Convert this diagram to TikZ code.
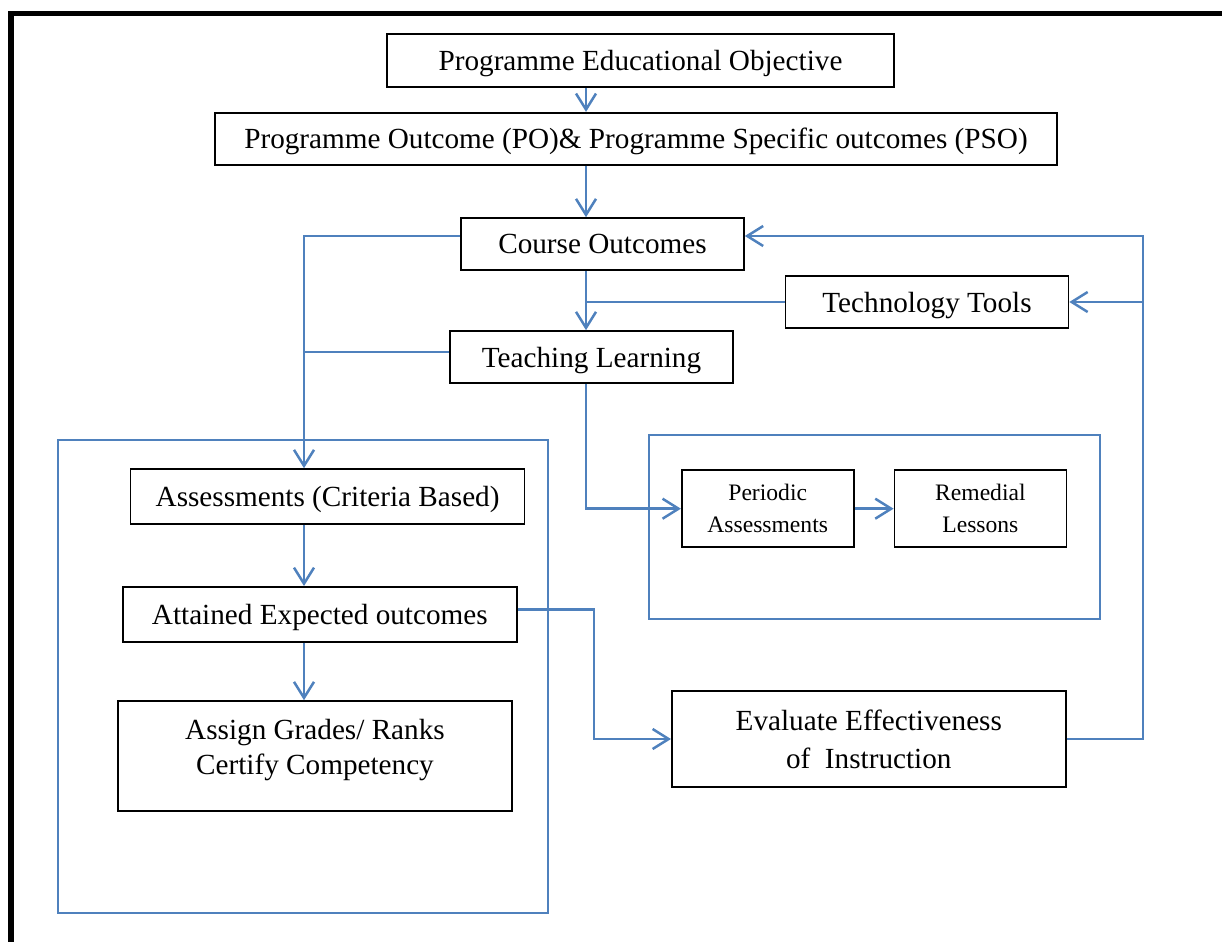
\documentclass[tikz,border=0pt]{standalone}
\usepackage{fontspec}
\setmainfont{Liberation Serif}
\usetikzlibrary{arrows.meta}
\definecolor{lineblue}{RGB}{79,129,189}

\begin{document}
\begin{tikzpicture}[x=0.5pt,y=-0.5pt,>={Straight Barb[length=8pt,width=10pt]},
                    main node/.style={draw,line width=0.8pt,inner sep=0pt,align=center,font=\fontsize{14.6}{17.5}\selectfont},
                    line node/.style={main node,text depth=0pt},
                    small node/.style={main node,font=\fontsize{11.8}{16}\selectfont},
                    link/.style={color=lineblue,line width=1.25pt}]
  \useasboundingbox (0,0) rectangle (1222,942);
  \draw[line width=2.7pt] (1240,13.5) -- (11,13.5) -- (11,960);
  % the two blue frames
  \draw[link] (58,440) rectangle (548,913);
  \draw[link] (649,435) rectangle (1100,619);
  \coordinate (spine) at (586,0);
  \coordinate (lx) at (304,0);
  \coordinate (mx) at (594,0);
  \coordinate (rx) at (1143,0);

  \node[line node,minimum width=253.5pt,minimum height=26.5pt] (peo) at (640.5,60.5) {Programme Educational Objective};
  \node[line node,minimum width=421pt,minimum height=26pt] (po) at (636,138.7) {Programme Outcome (PO)\& Programme Specific outcomes (PSO)};
  \node[line node,minimum width=141.5pt,minimum height=26pt] (co) at (602.5,244) {Course Outcomes};
  \node[line node,minimum width=141.5pt,minimum height=26pt] (tt) at (927,302) {Technology Tools};
  \node[line node,minimum width=141.5pt,minimum height=26pt] (tl) at (591.5,357) {Teaching Learning};
  \node[small node,minimum width=86pt,minimum height=38.5pt] (pa) at (767.7,508.7) {Periodic\\Assessments};
  \node[small node,minimum width=86pt,minimum height=38.5pt] (rl) at (980.4,508.7) {Remedial\\Lessons};
  \node[line node,minimum width=197pt,minimum height=27.5pt] (ass) at (327.6,496.5) {Assessments (Criteria Based)};
  \node[line node,minimum width=197pt,minimum height=27.5pt] (att) at (319.8,614.3) {Attained Expected outcomes};
  \node[main node,minimum width=197pt,minimum height=55pt] (grd) at (315,756) {Assign Grades/ Ranks\\Certify Competency\\[-8pt]\mbox{}};
  \node[main node,minimum width=197pt,minimum height=48pt,font=\fontsize{14.6}{19}\selectfont] (ev) at (868.8,739) {Evaluate Effectiveness\\of~ Instruction};

  \coordinate (coout) at ([yshift=4pt]co.west);
  \coordinate (coin) at ([yshift=4pt]co.east);
  \coordinate (tlout) at ([yshift=2.5pt]tl.west);
  \coordinate (attout) at ([yshift=2.5pt]att.east);

  \path[link,->]
    (peo.south -| spine) edge (po.north -| spine)
    (po.south -| spine) edge (co.north -| spine)
    (co.south -| spine) edge (tl.north -| spine)
    (pa) edge (rl)
    (ass.south -| lx) edge (att.north -| lx)
    (att.south -| lx) edge (grd.north -| lx);
  \draw[link,->] (coout) -| (ass.north -| lx);
  \draw[link] (tlout) -- (tlout -| lx);
  \draw[link] (tt.west) -- (tt.west -| spine);
  \draw[link,->] (tl.south -| spine) |- (pa.west);
  \draw[link,->] (attout) -| (ev.west -| mx) -- (ev.west);
  \draw[link,->] (ev.east) -| (coin -| rx) -- (coin);
  \draw[link,->] (tt.east -| rx) -- (tt.east);
\end{tikzpicture}
\end{document}
